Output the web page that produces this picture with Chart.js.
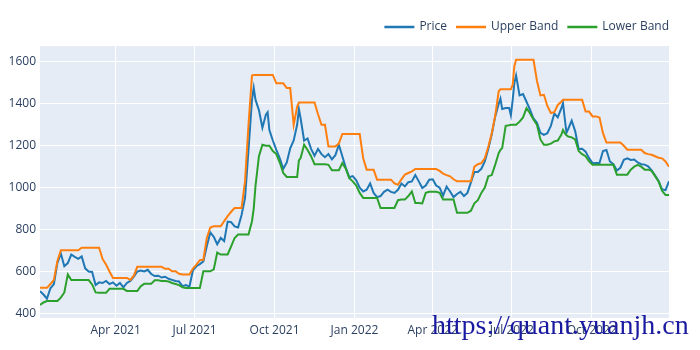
<!DOCTYPE html>
<html>
<head>
<meta charset="utf-8">
<script src="https://cdn.jsdelivr.net/npm/chart.js@4.4.1/dist/chart.umd.min.js"></script>
<style>
  html, body { margin: 0; padding: 0; background: #fff; }
  #wrap { width: 700px; height: 350px; }
</style>
</head>
<body>
<div id="wrap"><canvas id="myChart" width="700" height="350"></canvas></div>
<script>
// values (roughly every 4 days)
const dates = [
  '2021-01-04','2021-01-08','2021-01-12','2021-01-16','2021-01-20','2021-01-24','2021-01-28','2021-02-01','2021-02-05','2021-02-09',
  '2021-02-13','2021-02-17','2021-02-21','2021-02-25','2021-03-01','2021-03-05','2021-03-09','2021-03-13','2021-03-17','2021-03-21',
  '2021-03-25','2021-03-29','2021-04-02','2021-04-06','2021-04-10','2021-04-14','2021-04-18','2021-04-22','2021-04-26','2021-04-30',
  '2021-05-04','2021-05-08','2021-05-12','2021-05-16','2021-05-20','2021-05-24','2021-05-28','2021-06-01','2021-06-05','2021-06-09',
  '2021-06-13','2021-06-17','2021-06-21','2021-06-25','2021-06-29','2021-07-03','2021-07-07','2021-07-11','2021-07-15','2021-07-19',
  '2021-07-23','2021-07-27','2021-07-31','2021-08-04','2021-08-08','2021-08-12','2021-08-16','2021-08-20','2021-08-24','2021-08-28',
  '2021-09-01','2021-09-05','2021-09-07','2021-09-09','2021-09-13','2021-09-17','2021-09-21','2021-09-23','2021-09-25','2021-09-29',
  '2021-10-03','2021-10-07','2021-10-11','2021-10-15','2021-10-19','2021-10-23','2021-10-27','2021-10-29','2021-10-31','2021-11-04',
  '2021-11-08','2021-11-12','2021-11-16','2021-11-20','2021-11-24','2021-11-28','2021-12-02','2021-12-06','2021-12-10','2021-12-14',
  '2021-12-18','2021-12-22','2021-12-26','2021-12-30','2022-01-03','2022-01-07','2022-01-11','2022-01-15','2022-01-19','2022-01-23',
  '2022-01-27','2022-01-31','2022-02-04','2022-02-08','2022-02-12','2022-02-16','2022-02-20','2022-02-24','2022-02-28','2022-03-04',
  '2022-03-08','2022-03-12','2022-03-16','2022-03-20','2022-03-24','2022-03-28','2022-04-01','2022-04-05','2022-04-09','2022-04-13',
  '2022-04-17','2022-04-21','2022-04-25','2022-04-29','2022-05-03','2022-05-07','2022-05-11','2022-05-15','2022-05-19','2022-05-23',
  '2022-05-27','2022-05-31','2022-06-04','2022-06-08','2022-06-12','2022-06-16','2022-06-18','2022-06-20','2022-06-24','2022-06-28',
  '2022-06-30','2022-07-02','2022-07-04','2022-07-06','2022-07-10','2022-07-14','2022-07-18','2022-07-22','2022-07-26','2022-07-30',
  '2022-08-03','2022-08-07','2022-08-11','2022-08-15','2022-08-19','2022-08-23','2022-08-27','2022-08-29','2022-08-31','2022-09-02',
  '2022-09-04','2022-09-08','2022-09-12','2022-09-16','2022-09-20','2022-09-24','2022-09-28','2022-10-02','2022-10-06','2022-10-10',
  '2022-10-14','2022-10-18','2022-10-22','2022-10-26','2022-10-30','2022-11-03','2022-11-07','2022-11-11','2022-11-15','2022-11-19',
  '2022-11-23','2022-11-27','2022-12-01','2022-12-05','2022-12-09','2022-12-13','2022-12-17','2022-12-21','2022-12-25','2022-12-29'
];

const price = [
  506,490,470,520,540,640,686,625,640,681,
  670,660,672,615,600,598,535,548,545,555,
  540,548,532,545,524,545,555,575,600,605,
  600,608,588,578,580,571,575,565,560,555,
  552,530,535,528,605,625,635,648,720,786,
  765,730,760,745,838,835,815,810,870,950,
  1180,1420,1476,1420,1370,1286,1348,1360,1275,1225,
  1180,1140,1090,1120,1188,1225,1300,1375,1330,1225,
  1235,1185,1152,1185,1160,1145,1160,1135,1155,1205,
  1150,1095,1050,1055,1035,1000,982,990,1020,975,
  955,960,980,990,980,975,990,1020,1006,1026,
  1030,1060,1030,998,1010,1038,1040,1010,1000,962,
  1005,982,955,970,980,960,975,1025,1075,1075,
  1090,1125,1185,1255,1340,1400,1425,1375,1380,1380,
  1345,1415,1500,1535,1440,1447,1410,1372,1330,1310,
  1262,1252,1260,1295,1354,1335,1378,1403,1330,1262,
  1280,1320,1270,1185,1186,1172,1141,1117,1118,1118,
  1175,1180,1125,1112,1082,1095,1133,1140,1132,1134,
  1120,1112,1110,1102,1082,1058,1032,992,988,1030
];

const upperBand = [
  522,522,522,540,560,650,701,701,701,701,
  701,701,713,713,713,713,713,713,660,633,
  600,569,569,569,569,569,560,580,622,622,
  622,622,622,622,622,622,613,613,601,601,
  589,586,586,586,614,633,654,656,760,810,
  816,816,816,840,864,885,903,903,903,1030,
  1300,1535,1538,1538,1538,1538,1538,1538,1538,1538,
  1498,1498,1498,1475,1475,1300,1387,1406,1406,1406,
  1406,1406,1406,1350,1300,1300,1197,1197,1197,1210,
  1256,1256,1256,1256,1256,1256,1140,1086,1086,1086,
  1038,1038,1038,1038,1038,1020,1014,1040,1062,1070,
  1078,1089,1089,1089,1089,1089,1089,1089,1080,1067,
  1060,1054,1040,1030,1030,1030,1030,1030,1100,1112,
  1117,1140,1195,1260,1345,1460,1470,1470,1470,1470,
  1470,1490,1580,1610,1610,1610,1610,1610,1610,1510,
  1440,1443,1390,1356,1360,1395,1410,1419,1419,1419,
  1419,1419,1419,1419,1419,1363,1363,1340,1340,1335,
  1260,1215,1215,1215,1215,1215,1200,1181,1181,1181,
  1181,1181,1165,1160,1157,1150,1143,1140,1125,1100
];

const lowerBand = [
  440,452,459,459,459,459,475,500,586,559,
  559,559,559,559,559,538,500,498,498,498,
  517,517,517,517,517,507,507,507,507,530,
  541,541,541,558,558,555,555,552,545,540,
  535,525,521,521,521,521,521,601,601,601,
  610,690,681,681,681,720,760,776,776,776,
  776,840,900,1006,1150,1205,1200,1200,1200,1175,
  1160,1120,1070,1051,1051,1051,1051,1130,1141,1205,
  1180,1150,1112,1112,1112,1112,1109,1083,1083,1083,
  1117,1090,1045,1030,1010,975,951,951,951,951,
  951,903,903,903,903,903,940,943,943,960,
  982,927,927,925,975,980,980,980,975,943,
  943,943,943,880,880,880,880,890,925,940,
  975,1000,1054,1060,1110,1165,1180,1189,1295,1298,
  1300,1300,1300,1300,1315,1335,1379,1355,1325,1300,
  1230,1205,1205,1210,1221,1225,1252,1275,1260,1250,
  1244,1240,1230,1175,1160,1150,1125,1109,1109,1109,
  1109,1109,1109,1109,1062,1062,1062,1062,1086,1100,
  1109,1100,1086,1086,1080,1055,1030,985,965,965
];

const tickDates = ['2021-04-01','2021-07-01','2021-10-01','2022-01-01','2022-04-01','2022-07-01','2022-10-01'];
const yTicks = [400, 600, 800, 1000, 1200, 1400, 1600];
const monthNames = ['Jan','Feb','Mar','Apr','May','Jun','Jul','Aug','Sep','Oct','Nov','Dec'];

const FONT = "'Open Sans', sans-serif";
const TEXT = '#2a3f5f';

const toTime = s => Date.parse(s + 'T00:00:00Z');
const series = vals => vals.map((v, i) => ({ x: toTime(dates[i]), y: v }));

// plotly-like grey-blue plot area
const plotBg = {
  id: 'plotBg',
  beforeDraw(chart) {
    const { ctx, chartArea: a } = chart;
    ctx.save();
    ctx.fillStyle = '#E5ECF6';
    ctx.fillRect(a.left, a.top, a.right - a.left, a.bottom - a.top);
    ctx.restore();
  }
};

// horizontal legend, right edge lined up with the plot area
const lineLegend = {
  id: 'lineLegend',
  afterDraw(chart) {
    const ctx = chart.ctx;
    const sets = chart.data.datasets;
    ctx.save();
    ctx.font = '12px ' + FONT;
    const sample = 30, gapText = 5, gapItem = 9;
    let total = 0;
    sets.forEach((ds, i) => {
      total += sample + gapText + ctx.measureText(ds.label).width;
      if (i < sets.length - 1) total += gapItem;
    });
    let x = chart.chartArea.right - total;
    const y = 27;
    sets.forEach(ds => {
      ctx.strokeStyle = ds.borderColor;
      ctx.lineWidth = 2.5;
      ctx.beginPath();
      ctx.moveTo(x, y);
      ctx.lineTo(x + sample, y);
      ctx.stroke();
      x += sample + gapText;
      ctx.fillStyle = TEXT;
      ctx.textBaseline = 'middle';
      ctx.fillText(ds.label, x, y);
      x += ctx.measureText(ds.label).width + gapItem;
    });
    ctx.restore();
  }
};

// site watermark stamped over the bottom right
const watermark = {
  id: 'watermark',
  afterDraw(chart) {
    const ctx = chart.ctx;
    ctx.save();
    ctx.font = "28px 'Liberation Serif', serif";
    ctx.fillStyle = '#1a1aa0';
    ctx.textBaseline = 'alphabetic';
    ctx.fillText('https://quant.yuanjh.cn', 432, 334);
    ctx.restore();
  }
};

const myChartRef = document.getElementById('myChart').getContext('2d');
new Chart(myChartRef, {
  type: 'line',
  data: {
    datasets: [
      { label: 'Price', data: series(price), borderColor: '#1f77b4', order: 3 },
      { label: 'Upper Band', data: series(upperBand), borderColor: '#ff7f0e', order: 2 },
      { label: 'Lower Band', data: series(lowerBand), borderColor: '#2ca02c', order: 1 }
    ]
  },
  options: {
    responsive: false,
    animation: false,
    devicePixelRatio: 1,
    layout: { padding: { top: 46, right: 31, left: 0, bottom: 0 } },
    elements: {
      line: { borderWidth: 2, tension: 0, fill: false },
      point: { radius: 0 }
    },
    plugins: {
      legend: { display: false },
      tooltip: { enabled: false }
    },
    scales: {
      x: {
        type: 'linear',
        min: toTime(dates[0]),
        max: toTime(dates[dates.length - 1]),
        afterBuildTicks: scale => { scale.ticks = tickDates.map(d => ({ value: toTime(d) })); },
        afterFit: scale => { scale.height = 32; },
        grid: { color: '#ffffff', lineWidth: 1, drawTicks: false },
        border: { display: false },
        ticks: {
          padding: 5,
          maxRotation: 0,
          color: TEXT,
          font: { family: FONT, size: 12 },
          callback: v => {
            const d = new Date(v);
            return monthNames[d.getUTCMonth()] + ' ' + d.getUTCFullYear();
          }
        }
      },
      y: {
        min: 378,
        max: 1676,
        afterBuildTicks: scale => { scale.ticks = yTicks.map(v => ({ value: v })); },
        afterFit: scale => { scale.width = 40; },
        grid: { color: '#ffffff', lineWidth: 1, drawTicks: false },
        border: { display: false },
        ticks: {
          padding: 4,
          color: TEXT,
          font: { family: FONT, size: 12 },
          callback: v => String(v)
        }
      }
    }
  },
  plugins: [plotBg, lineLegend, watermark]
});
</script>
</body>
</html>
